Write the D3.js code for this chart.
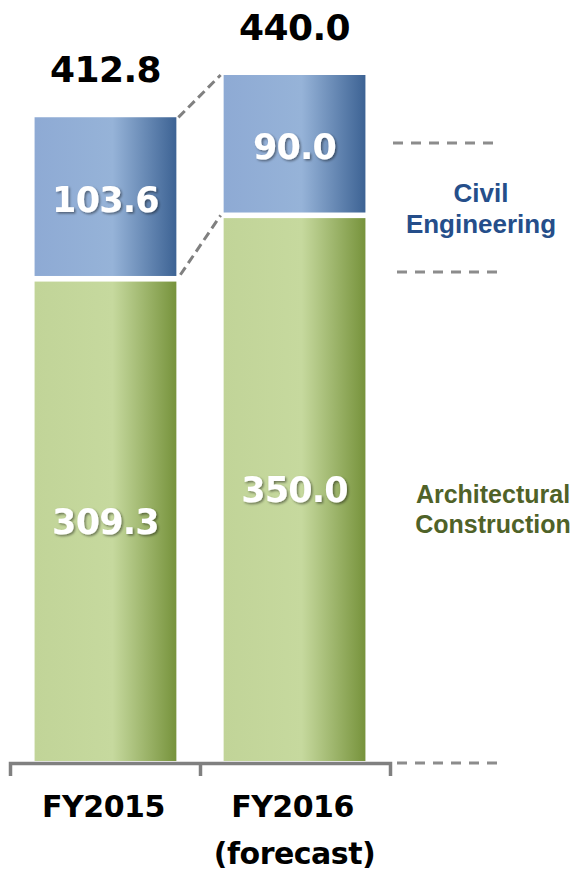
<!DOCTYPE html>
<html>
<head>
<meta charset="utf-8">
<script src="https://cdn.jsdelivr.net/npm/d3@7"></script>
<style>
  html, body { margin: 0; padding: 0; background: #fff; }
</style>
</head>
<body>
<div id="chart"></div>
<script>
// data
const categories = ['FY2015', 'FY2016']
const subLabels = ['', '(forecast)']
const architectural = [309.3, 350.0]
const civil = [103.6, 90.0]
const totals = [412.8, 440.0]

const width = 580,
  height = 878,
  baseY = 761

const svg = d3.select('#chart')
  .append('svg')
  .attr('width', width)
  .attr('height', height)

const defs = svg.append('defs')

// horizontal shading on the bars
const grad = (id, stops) => {
  const g = defs.append('linearGradient')
    .attr('id', id)
    .attr('x1', 0).attr('x2', 1).attr('y1', 0).attr('y2', 0)
  stops.forEach(s => g.append('stop').attr('offset', s[0]).attr('stop-color', s[1]))
}
grad('gBlue', [[0, '#8eaad4'], [0.55, '#96b3d8'], [1, '#3d6394']])
grad('gGreen', [[0, '#c1d498'], [0.55, '#c6d99e'], [1, '#77933c']])

const shadow = defs.append('filter').attr('id', 'shadow')
  .attr('x', '-20%').attr('y', '-20%').attr('width', '140%').attr('height', '140%')
shadow.append('feDropShadow')
  .attr('dx', 1.5).attr('dy', 1.5).attr('stdDeviation', 1.2)
  .attr('flood-color', '#000').attr('flood-opacity', 0.45)

// scales
const x = d3.scaleBand()
  .domain(categories)
  .range([10, 390])
  .paddingInner(0.25)
  .paddingOuter(0.13)

const y = d3.scaleLinear()
  .domain([0, 440])
  .range([baseY, 75])

const gap = 2.8

// green segments
svg.selectAll('rect.arch')
  .data(architectural)
  .enter()
  .append('rect')
  .attr('class', 'arch')
  .attr('x', (d, i) => x(categories[i]))
  .attr('y', d => y(d) + gap)
  .attr('width', x.bandwidth())
  .attr('height', d => baseY - y(d) - gap)
  .attr('fill', 'url(#gGreen)')

// blue segments
svg.selectAll('rect.civil')
  .data(civil)
  .enter()
  .append('rect')
  .attr('class', 'civil')
  .attr('x', (d, i) => x(categories[i]))
  .attr('y', (d, i) => y(architectural[i] + d))
  .attr('width', x.bandwidth())
  .attr('height', (d, i) => y(architectural[i]) - y(architectural[i] + d) - gap)
  .attr('fill', 'url(#gBlue)')

// connectors between the bars
const x0 = x(categories[0]) + x.bandwidth()
const x1 = x(categories[1])
const conn = [
  [[x0 + 2, y(totals[0])], [x1 - 3, y(totals[1])]],
  [[x0 + 4, y(architectural[0]) - 4], [x1 - 3, y(architectural[1])]]
]
svg.selectAll('line.conn')
  .data(conn)
  .enter()
  .append('line')
  .attr('class', 'conn')
  .attr('x1', d => d[0][0]).attr('y1', d => d[0][1])
  .attr('x2', d => d[1][0]).attr('y2', d => d[1][1])
  .attr('stroke', '#808080')
  .attr('stroke-width', 3)
  .attr('stroke-dasharray', '9 5')

// value labels inside bars
const inside = []
categories.forEach((c, i) => {
  inside.push({ c: c, v: civil[i], mid: (y(architectural[i] + civil[i]) + y(architectural[i])) / 2 })
  inside.push({ c: c, v: architectural[i], mid: (y(architectural[i]) + baseY) / 2 })
})
svg.selectAll('text.inside')
  .data(inside)
  .enter()
  .append('text')
  .attr('class', 'inside')
  .attr('x', d => x(d.c) + x.bandwidth() / 2)
  .attr('y', d => d.mid + 14)
  .attr('text-anchor', 'middle')
  .attr('fill', '#fff')
  .attr('filter', 'url(#shadow)')
  .style('font', 'bold 35px "DejaVu Sans", sans-serif')
  .style('letter-spacing', '-0.8px')
  .text(d => d.v.toFixed(1))

// totals
svg.selectAll('text.total')
  .data(totals)
  .enter()
  .append('text')
  .attr('class', 'total')
  .attr('x', (d, i) => x(categories[i]) + x.bandwidth() / 2)
  .attr('y', d => y(d) - 35)
  .attr('text-anchor', 'middle')
  .attr('fill', '#000')
  .style('font', 'bold 36px "DejaVu Sans", sans-serif')
  .style('letter-spacing', '-0.6px')
  .text(d => d.toFixed(1))

// bracket axis
const xb = d3.scaleLinear().domain([0, categories.length]).range([10, 390])
const axis = svg.append('g')
  .attr('transform', `translate(0, ${baseY + 2})`)
  .call(d3.axisBottom(xb).tickValues([1]).tickSize(13).tickSizeOuter(13).tickFormat(''))
axis.selectAll('path, line')
  .attr('stroke', '#808080')
  .attr('stroke-width', 3.5)

// category labels
const cat = svg.selectAll('text.cat')
  .data(categories)
  .enter()
  .append('text')
  .attr('class', 'cat')
  .attr('text-anchor', 'middle')
  .attr('fill', '#000')
  .style('font', 'bold 30px "DejaVu Sans", sans-serif')
  .style('letter-spacing', '-0.5px')
cat.append('tspan')
  .attr('x', d => x(d) + x.bandwidth() / 2 - 2)
  .attr('y', 817)
  .text(d => d)
cat.append('tspan')
  .attr('x', d => x(d) + x.bandwidth() / 2)
  .attr('y', 864)
  .text((d, i) => subLabels[i])

// legend separators on the right
const seps = [[393, 497, 143], [397, 501, 272], [397, 505, baseY + 2]]
svg.selectAll('line.sep')
  .data(seps)
  .enter()
  .append('line')
  .attr('class', 'sep')
  .attr('x1', d => d[0]).attr('x2', d => d[1])
  .attr('y1', d => d[2]).attr('y2', d => d[2])
  .attr('stroke', '#8c8c8c')
  .attr('stroke-width', 3)
  .attr('stroke-dasharray', '10 8')

// series names
const legend = [
  { lines: ['Civil', 'Engineering'], x: 481, y: 202, step: 31, size: 26, color: '#254e8a' },
  { lines: ['Architectural', 'Construction'], x: 493, y: 503, step: 30, size: 25, color: '#4f6228' }
]
legend.forEach(l => {
  const t = svg.append('text')
    .attr('text-anchor', 'middle')
    .attr('fill', l.color)
    .style('font', `bold ${l.size}px "Liberation Sans", Arial, sans-serif`)
  l.lines.forEach((s, i) => {
    t.append('tspan').attr('x', l.x).attr('y', l.y + i * l.step).text(s)
  })
})
</script>
</body>
</html>
